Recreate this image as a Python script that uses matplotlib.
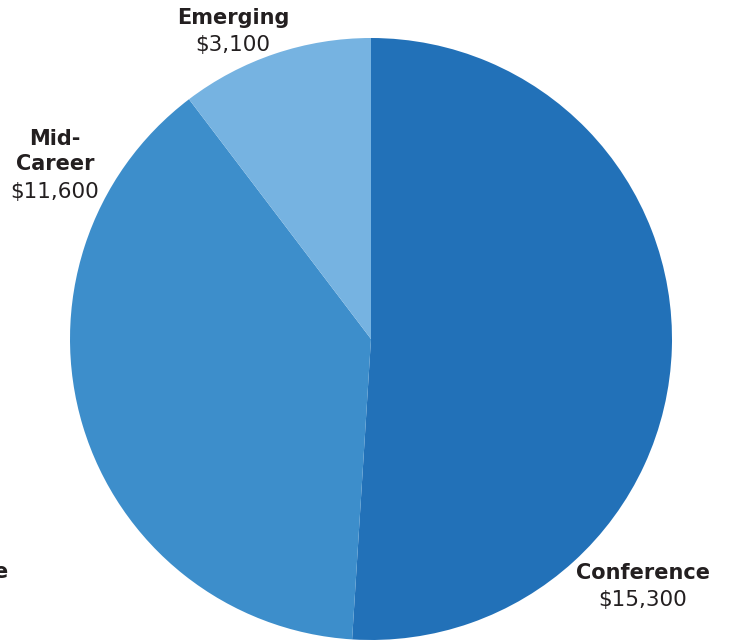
import matplotlib
matplotlib.use("Agg")
import matplotlib.pyplot as plt

# slice data, clockwise from 12 o'clock
categories = ["Conference", "Mid-\nCareer", "Emerging"]
values = [15300, 11600, 3100]
colors = ["#2271b8", "#3d8ecb", "#76b3e1"]

W, H = 731, 641
fig = plt.figure(figsize=(W / 100, H / 100), dpi=100)
ax = fig.add_axes([0, 0, 1, 1])

# pie centred at (371, 339) in image pixels
ax.pie(values, colors=colors, startangle=90, counterclock=False,
       center=(371, H - 339), radius=301, frame=True,
       wedgeprops=dict(linewidth=0))
ax.set_xlim(0, W)
ax.set_ylim(0, H)
ax.axis("off")

txt = "#231f20"
fam = ["DejaVu Sans"]

# label anchors (image pixels)
label_pos = {
    "Conference": (643, 573),
    "Mid-\nCareer": (55, 151.5),
    "Emerging": (233, 18),
}
for cat, val in zip(categories, values):
    x, y = label_pos[cat]
    nlines = cat.count("\n") + 1
    ax.text(x, H - y, cat, ha="center", va="center", fontsize=15,
            fontweight="bold", color=txt, family=fam, linespacing=1.35)
    vy = y + 13.5 * nlines + 13.5
    ax.text(x, H - vy, "${:,}".format(val), ha="center", va="center",
            fontsize=15.5, color=txt, family=fam)

# clipped fragment of a neighbouring label at the left edge
ax.text(-7, H - 572, "e", ha="left", va="center", fontsize=15,
        fontweight="bold", color=txt, family=fam)

fig.savefig("out.png", dpi=100)
